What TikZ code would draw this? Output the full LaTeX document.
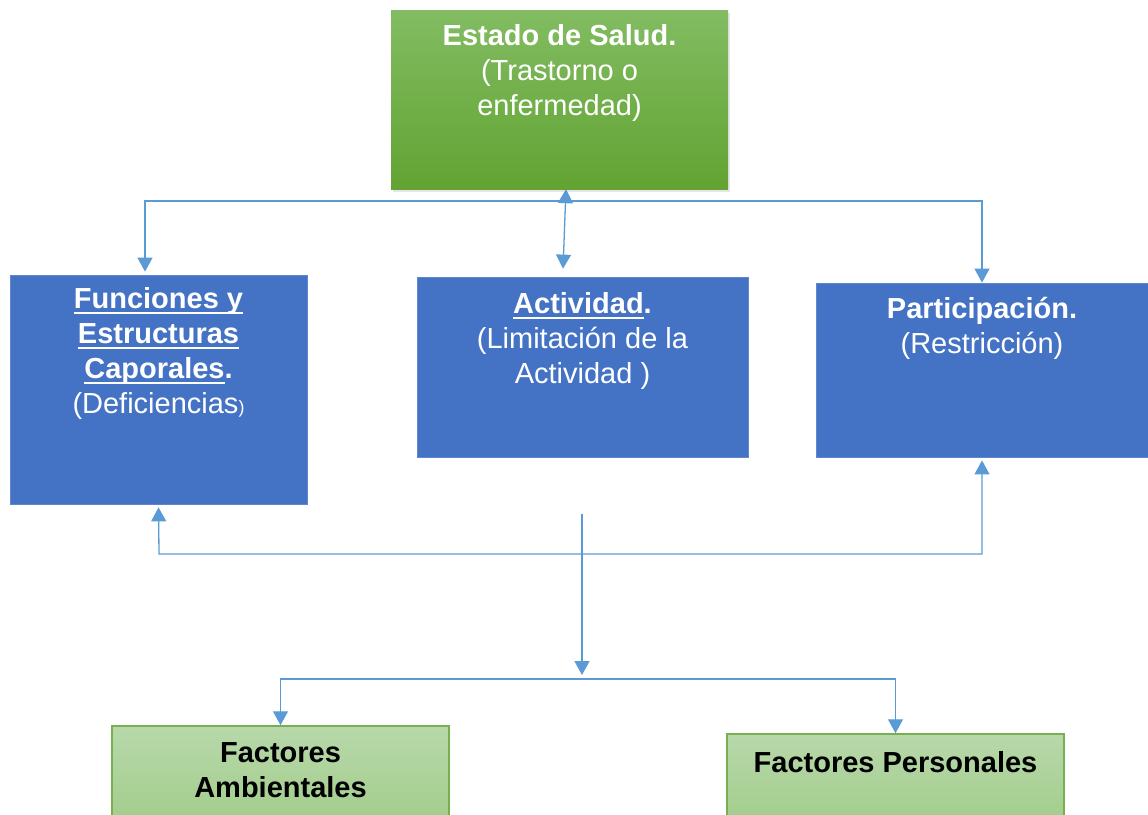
\documentclass[tikz,border=0pt]{standalone}
\usepackage{fontspec}
\setmainfont{Liberation Sans}
\usetikzlibrary{arrows.meta, positioning, shadows}
\definecolor{saludtop}{RGB}{130,188,98}
\definecolor{saludbot}{RGB}{98,163,50}
\definecolor{boxblue}{RGB}{68,114,196}
\definecolor{factop}{RGB}{184,216,170}
\definecolor{facbot}{RGB}{158,203,134}
\definecolor{facline}{RGB}{118,176,80}
\definecolor{linkblue}{RGB}{91,155,213}
\newcommand{\ulbox}[1]{\leavevmode\setbox0=\hbox{#1}\rlap{\rule[-5pt]{\wd0}{2pt}}\box0}

\begin{document}
\begin{tikzpicture}[x=1pt, y=-1pt,
    bigfont/.style={font=\fontsize{29}{35}\selectfont},
    saludbox/.style={top color=saludtop, bottom color=saludbot, inner sep=0pt,
      drop shadow={shadow xshift=2pt, shadow yshift=-3pt, opacity=0.2}},
    bluebox/.style={fill=boxblue, draw=boxblue!85!white, line width=0.8pt, inner sep=0pt},
    facbox/.style={top color=factop, bottom color=facbot, draw=facline, line width=1.5pt, inner sep=0pt},
    whitetxt/.style={bigfont, text=white, align=center, inner sep=0pt},
    blacktxt/.style={bigfont, text=black, align=center, inner sep=0pt, font=\fontsize{29}{35}\selectfont\bfseries},
    link/.style={draw=linkblue, line width=1.3pt},
    tip/.tip={Triangle[length=14pt, width=15pt]}]
  \useasboundingbox (0,0) rectangle (1148,814);
  \clip (0,0) rectangle (1148,814);

  % Boxes
  \node[saludbox, minimum width=337pt, minimum height=179pt] (salud) at (559.5,99.5) {};
  \node[bluebox, minimum width=297pt, minimum height=229pt] (func) at (158.5,389.5) {};
  \node[bluebox, minimum width=331pt, minimum height=180pt] (activ) at (582.5,367) {};
  \node[bluebox, minimum width=332pt, minimum height=174pt] (partic) at (982,370) {};
  \node[facbox, minimum width=337pt, minimum height=114pt] (ambient) at (280.5,783) {};
  \node[facbox, minimum width=337pt, minimum height=106pt] (personal) at (895.5,787) {};

  % Texts
  \node[whitetxt, below=14pt of salud.north] (saludtxt)
    {\textbf{Estado de Salud.}\\(Trastorno o\\enfermedad)};
  \node[whitetxt, below=13pt of func.north] (functxt)
    {\textbf{\ulbox{Funciones y}}\\\textbf{\ulbox{Estructuras}}\\\textbf{\ulbox{Caporales}.}\\(Deficiencias{\fontsize{18}{20}\selectfont)}};
  \node[whitetxt, below=16pt of activ.north] (activtxt)
    {\textbf{\ulbox{Actividad}.}\\(Limitación de la\\Actividad )};
  \node[whitetxt, below=14pt of partic.north] (partictxt)
    {\textbf{Participación.}\\(Restricción)};
  \node[blacktxt, below=17pt of ambient.north] (ambienttxt) {Factores\\Ambientales};
  \node[blacktxt, below=18pt of personal.north] (personaltxt) {Factores Personales};

  % Connectors
  \coordinate (busL) at (145,201);
  \coordinate (loopL) at (159,554);
  \coordinate (mid) at (582,514);
  \coordinate (busB) at (582,679);
  \draw[link, tip-tip] ([xshift=6.5pt]salud.south) -- ([xshift=-19.5pt, yshift=8pt]activ.north);
  \draw[link, tip-tip, shorten <=3pt] (func.north -| busL) -- (busL) -| (partic.north);
  \draw[link, tip-tip, shorten <=3pt, shorten >=3pt] (func.south) -- (loopL) -| (partic.south);
  \draw[link, -tip] (mid) -- ([yshift=4pt]busB);
  \draw[link, tip-tip] (ambient.north) |- (busB) -| (personal.north);
\end{tikzpicture}
\end{document}
